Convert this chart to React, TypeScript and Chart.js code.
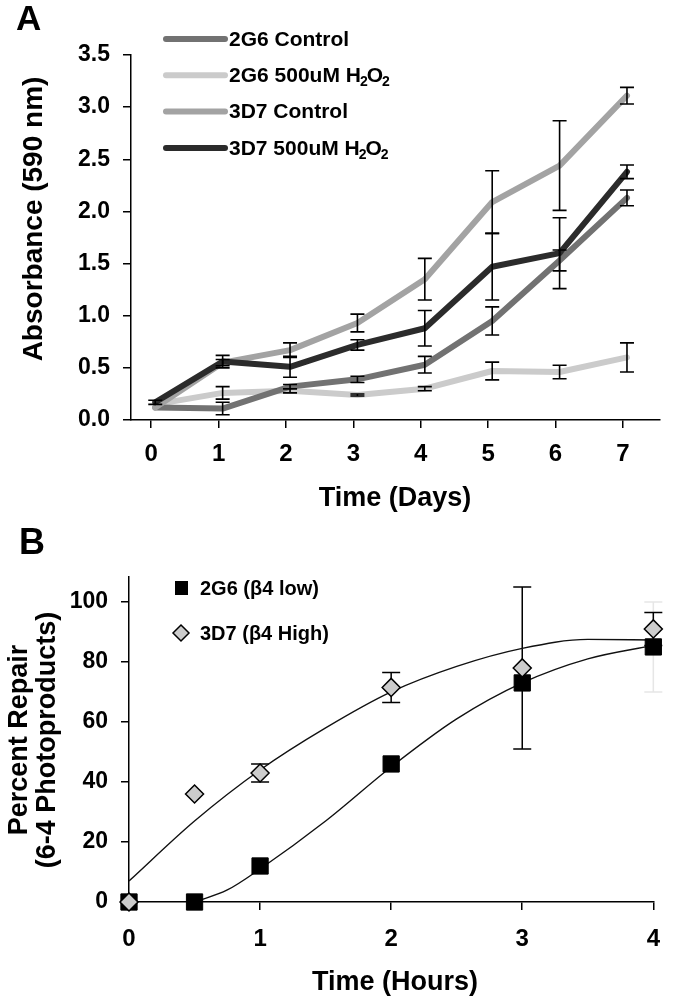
import React, { useEffect, useRef } from "react";
import { Chart, registerables } from "chart.js";
Chart.register(...registerables);

// ---------- Panel A data ----------
const DAYS = [0, 1, 2, 3, 4, 5, 6, 7];
const DAY_TICK_LABELS = ["0", "1", "2", "3", "4", "5", "6", "7"];
const ABS_TICKS = [0, 0.5, 1, 1.5, 2, 2.5, 3, 3.5];

const G6_CONTROL = [0.12, 0.11, 0.32, 0.39, 0.53, 0.95, 1.53, 2.13];
const G6_CONTROL_ERR = [0, 0.06, 0.02, 0.03, 0.08, 0.135, 0.1, 0.075];
const G6_H2O2 = [0.15, 0.26, 0.28, 0.24, 0.3, 0.47, 0.46, 0.6];
const G6_H2O2_ERR = [0, 0.06, 0.02, 0.01, 0.02, 0.085, 0.065, 0.14];
const D7_CONTROL = [0.12, 0.55, 0.67, 0.93, 1.35, 2.09, 2.44, 3.11];
const D7_CONTROL_ERR = [0, 0.03, 0.07, 0.085, 0.2, 0.3, 0.43, 0.08];
const D7_H2O2 = [0.17, 0.56, 0.51, 0.72, 0.88, 1.47, 1.6, 2.38];
const D7_H2O2_ERR = [0.02, 0.06, 0.1, 0.05, 0.17, 0.32, 0.34, 0.065];

const LEGEND_A = ["2G6 Control", "2G6 500uM H_2O_2", "3D7 Control", "3D7 500uM H_2O_2"];
const COLORS_A = ["#727272", "#cbcbcb", "#a3a3a3", "#2b2b2b"];

// ---------- Panel B data ----------
const HOURS = [0, 0.5, 1, 2, 3, 4];
const REPAIR_2G6 = [0, 0, 12, 46, 73, 85];
const REPAIR_2G6_ERR = [0, 0, 0, 0, 0, 15];
const REPAIR_3D7 = [0, 36, 43, 71.5, 78, 91];
const REPAIR_3D7_ERR = [0, 0, 3, 5, 27, 5.5];
const HOUR_TICKS = [0, 1, 2, 3, 4];
const REPAIR_TICKS = [0, 20, 40, 60, 80, 100];
// fitted curves
const FIT_3D7_X = [0, 0.5, 1, 1.5, 2, 2.5, 3, 3.5, 4];
const FIT_3D7_Y = [7, 27, 44, 58, 70, 78.5, 84.5, 87.5, 87.3];
const FIT_2G6_X = [0.5, 0.75, 1, 1.5, 2, 2.5, 3, 3.5, 4];
const FIT_2G6_Y = [0, 4, 11, 27, 45, 61, 73, 81, 85.5];
const LEGEND_B = ["2G6 (\u03b24 low)", "3D7 (\u03b24 High)"];

const FAMILY = '"Liberation Sans", Arial, Helvetica, sans-serif';
const f = (size: number) => `bold ${size}px ${FAMILY}`;

function drawRich(ctx: CanvasRenderingContext2D, text: string, x: number, y: number, size: number) {
  // "_c" -> subscript c
  let cx = x;
  let i = 0;
  ctx.textAlign = "left";
  ctx.textBaseline = "middle";
  while (i < text.length) {
    if (text[i] === "_" && i + 1 < text.length) {
      ctx.font = f(Math.round(size * 0.68));
      ctx.fillText(text[i + 1], cx - 1, y + size * 0.3);
      cx += ctx.measureText(text[i + 1]).width - 2;
      i += 2;
    } else {
      let j = i;
      while (j < text.length && text[j] !== "_") j++;
      const seg = text.slice(i, j);
      ctx.font = f(size);
      ctx.fillText(seg, cx, y);
      cx += ctx.measureText(seg).width;
      i = j;
    }
  }
}

const errorBarPlugin = {
  id: "errorBars",
  _draw(chart: any, layer: string) {
    const opts = chart.options.plugins.errorBars || {};
    if ((opts.layer || "after") !== layer) return;
    const ctx = chart.ctx;
    const xs = chart.scales.x;
    const ys = chart.scales.y;
    ctx.save();
    chart.data.datasets.forEach((ds: any) => {
      if (!ds.errors) return;
      ctx.strokeStyle = ds.errColor || "#000";
      ctx.lineWidth = opts.lineWidth || 1.5;
      const half = opts.cap || 7;
      ds.data.forEach((p: any, j: number) => {
        const e = ds.errors[j];
        if (!e) return;
        const x = xs.getPixelForValue(p.x);
        const y1 = ys.getPixelForValue(p.y + e);
        const y2 = ys.getPixelForValue(p.y - e);
        ctx.beginPath();
        ctx.moveTo(x, y1);
        ctx.lineTo(x, y2);
        ctx.moveTo(x - half, y1);
        ctx.lineTo(x + half, y1);
        ctx.moveTo(x - half, y2);
        ctx.lineTo(x + half, y2);
        ctx.stroke();
      });
    });
    ctx.restore();
  },
  beforeDatasetsDraw(chart: any) {
    (this as any)._draw(chart, "before");
  },
  afterDatasetsDraw(chart: any) {
    (this as any)._draw(chart, "after");
  },
};

const axisStyle = (tickSize: number, padding: number) => ({
  grid: { drawOnChartArea: false, drawTicks: true, tickLength: 8, color: "#000", lineWidth: 1.5 },
  border: { display: true, color: "#000", width: 1.5 },
  ticks: { color: "#000", font: { family: FAMILY, weight: "bold" as const, size: tickSize }, padding, autoSkip: false, maxRotation: 0 },
});

function pts(xs: number[], ys: number[]) {
  return xs.map((x, i) => ({ x, y: ys[i] }));
}

export default function App() {
  const refA = useRef<HTMLCanvasElement>(null);
  const refB = useRef<HTMLCanvasElement>(null);

  useEffect(() => {
    const seriesA = [G6_CONTROL, G6_H2O2, D7_CONTROL, D7_H2O2];
    const errA = [G6_CONTROL_ERR, G6_H2O2_ERR, D7_CONTROL_ERR, D7_H2O2_ERR];
    const orderA = [3, 4, 2, 1];
    const decorA = {
      id: "decorA",
      afterDraw(chart: any) {
        const ctx = chart.ctx;
        ctx.save();
        ctx.fillStyle = "#000";
        ctx.font = f(35);
        ctx.textAlign = "left";
        ctx.textBaseline = "alphabetic";
        ctx.fillText("A", 16, 30);
        // legend
        LEGEND_A.forEach((lab, i) => {
          const y = 39 + i * 36.3;
          ctx.strokeStyle = COLORS_A[i];
          ctx.lineWidth = 6;
          ctx.lineCap = "round";
          ctx.beginPath();
          ctx.moveTo(166, y);
          ctx.lineTo(225, y);
          ctx.stroke();
          ctx.fillStyle = "#000";
          drawRich(ctx, lab, 229, y + 1, 21);
        });
        // axis titles
        ctx.font = f(27);
        ctx.textAlign = "center";
        ctx.textBaseline = "alphabetic";
        ctx.fillText("Time (Days)", 395, 506);
        ctx.save();
        ctx.translate(34, 219);
        ctx.rotate(-Math.PI / 2);
        ctx.textBaseline = "middle";
        ctx.font = f(28);
        ctx.fillText("Absorbance (590 nm)", 0, 0);
        ctx.restore();
        ctx.restore();
      },
    };
    const chartA = new Chart(refA.current!, {
      type: "line",
      data: {
        datasets: seriesA.map((s, i) => ({
          label: LEGEND_A[i],
          data: pts(DAYS, s),
          borderColor: COLORS_A[i],
          backgroundColor: COLORS_A[i],
          borderWidth: 6,
          pointRadius: 0,
          tension: 0,
          borderCapStyle: "round",
          borderJoinStyle: "round",
          order: orderA[i],
          errors: errA[i],
          clip: false,
        })) as any,
      },
      options: {
        responsive: false,
        animation: false,
        events: [],
        layout: { padding: { top: 55, right: 15, bottom: 0, left: 0 } },
        plugins: { legend: { display: false }, tooltip: { enabled: false }, errorBars: { layer: "after", cap: 7, lineWidth: 1.6 } } as any,
        scales: {
          x: {
            type: "linear",
            min: -0.36,
            max: 7.49,
            ...axisStyle(24, 12),
            afterBuildTicks: (s: any) => {
              s.ticks = DAYS.map((d) => ({ value: d - 0.06 }));
            },
            ticks: { ...axisStyle(24, 12).ticks, callback: (_v: any, i: number) => DAY_TICK_LABELS[i] },
            afterFit: (s: any) => {
              s.height = 100;
            },
          },
          y: {
            type: "linear",
            min: 0,
            max: 3.5,
            ...axisStyle(23, 13),
            afterBuildTicks: (s: any) => {
              s.ticks = ABS_TICKS.map((v) => ({ value: v }));
            },
            ticks: { ...axisStyle(23, 13).ticks, callback: (v: any) => Number(v).toFixed(1) },
            afterFit: (s: any) => {
              s.width = 131;
            },
          },
        } as any,
      },
      plugins: [errorBarPlugin as any, decorA],
    });

    const decorB = {
      id: "decorB",
      afterDraw(chart: any) {
        const ctx = chart.ctx;
        ctx.save();
        ctx.fillStyle = "#000";
        ctx.font = f(36);
        ctx.textAlign = "left";
        ctx.textBaseline = "alphabetic";
        ctx.fillText("B", 19, 34);
        // legend
        ctx.fillStyle = "#000";
        ctx.fillRect(175, 61, 13, 14);
        ctx.beginPath();
        ctx.moveTo(181, 105);
        ctx.lineTo(189, 113);
        ctx.lineTo(181, 121);
        ctx.lineTo(173, 113);
        ctx.closePath();
        ctx.fillStyle = "#cccccc";
        ctx.fill();
        ctx.strokeStyle = "#000";
        ctx.lineWidth = 1.5;
        ctx.stroke();
        ctx.fillStyle = "#000";
        ctx.font = f(20);
        ctx.textBaseline = "middle";
        ctx.fillText(LEGEND_B[0], 200, 69);
        ctx.fillText(LEGEND_B[1], 200, 114);
        // axis titles
        ctx.font = f(27);
        ctx.textAlign = "center";
        ctx.textBaseline = "alphabetic";
        ctx.fillText("Time (Hours)", 395, 470);
        ctx.save();
        ctx.translate(0, 220);
        ctx.rotate(-Math.PI / 2);
        ctx.textBaseline = "middle";
        ctx.font = f(27);
        ctx.fillText("Percent Repair", 0, 20);
        ctx.fillText("(6-4 Photoproducts)", 0, 48);
        ctx.restore();
        ctx.restore();
      },
    };

    const chartB = new Chart(refB.current!, {
      type: "line",
      data: {
        datasets: [
          {
            label: "fit 3D7",
            data: pts(FIT_3D7_X, FIT_3D7_Y),
            borderColor: "#111",
            borderWidth: 1.4,
            pointRadius: 0,
            cubicInterpolationMode: "monotone",
            order: 4,
          },
          {
            label: "fit 2G6",
            data: pts(FIT_2G6_X, FIT_2G6_Y),
            borderColor: "#111",
            borderWidth: 1.4,
            pointRadius: 0,
            cubicInterpolationMode: "monotone",
            order: 3,
          },
          {
            label: LEGEND_B[0],
            data: pts(HOURS, REPAIR_2G6),
            showLine: false,
            pointStyle: "rect",
            pointRadius: 11.5,
            backgroundColor: "#000",
            borderColor: "#000",
            borderWidth: 1,
            order: 2,
            clip: false,
            errors: REPAIR_2G6_ERR,
            errColor: "#e6e6e6",
          },
          {
            label: LEGEND_B[1],
            data: pts(HOURS, REPAIR_3D7),
            showLine: false,
            pointStyle: "rectRot",
            pointRadius: 9,
            backgroundColor: "#cccccc",
            borderColor: "#000",
            borderWidth: 1.5,
            order: 1,
            clip: false,
            errors: REPAIR_3D7_ERR,
          },
        ] as any,
      },
      options: {
        responsive: false,
        animation: false,
        events: [],
        layout: { padding: { top: 57, right: 15, bottom: 0, left: 0 } },
        plugins: { legend: { display: false }, tooltip: { enabled: false }, errorBars: { layer: "before", cap: 9, lineWidth: 1.5 } } as any,
        scales: {
          x: {
            type: "linear",
            min: 0,
            max: 4,
            ...axisStyle(24, 15),
            afterBuildTicks: (s: any) => {
              s.ticks = HOUR_TICKS.map((v) => ({ value: v }));
            },
            afterFit: (s: any) => {
              s.height = 102;
            },
          },
          y: {
            type: "linear",
            min: 0,
            max: 108.3,
            ...axisStyle(23, 13),
            afterBuildTicks: (s: any) => {
              s.ticks = REPAIR_TICKS.map((v) => ({ value: v }));
            },
            afterFit: (s: any) => {
              s.width = 129;
            },
          },
        } as any,
      },
      plugins: [errorBarPlugin as any, decorB],
    });

    return () => {
      chartA.destroy();
      chartB.destroy();
    };
  }, []);

  return (
    <div style={{ position: "absolute", left: 0, top: 0, width: 675, height: 1004, background: "#fff" }}>
      <canvas ref={refA} width={675} height={520} style={{ display: "block", width: 675, height: 520 }} />
      <canvas ref={refB} width={675} height={484} style={{ display: "block", width: 675, height: 484 }} />
    </div>
  );
}
